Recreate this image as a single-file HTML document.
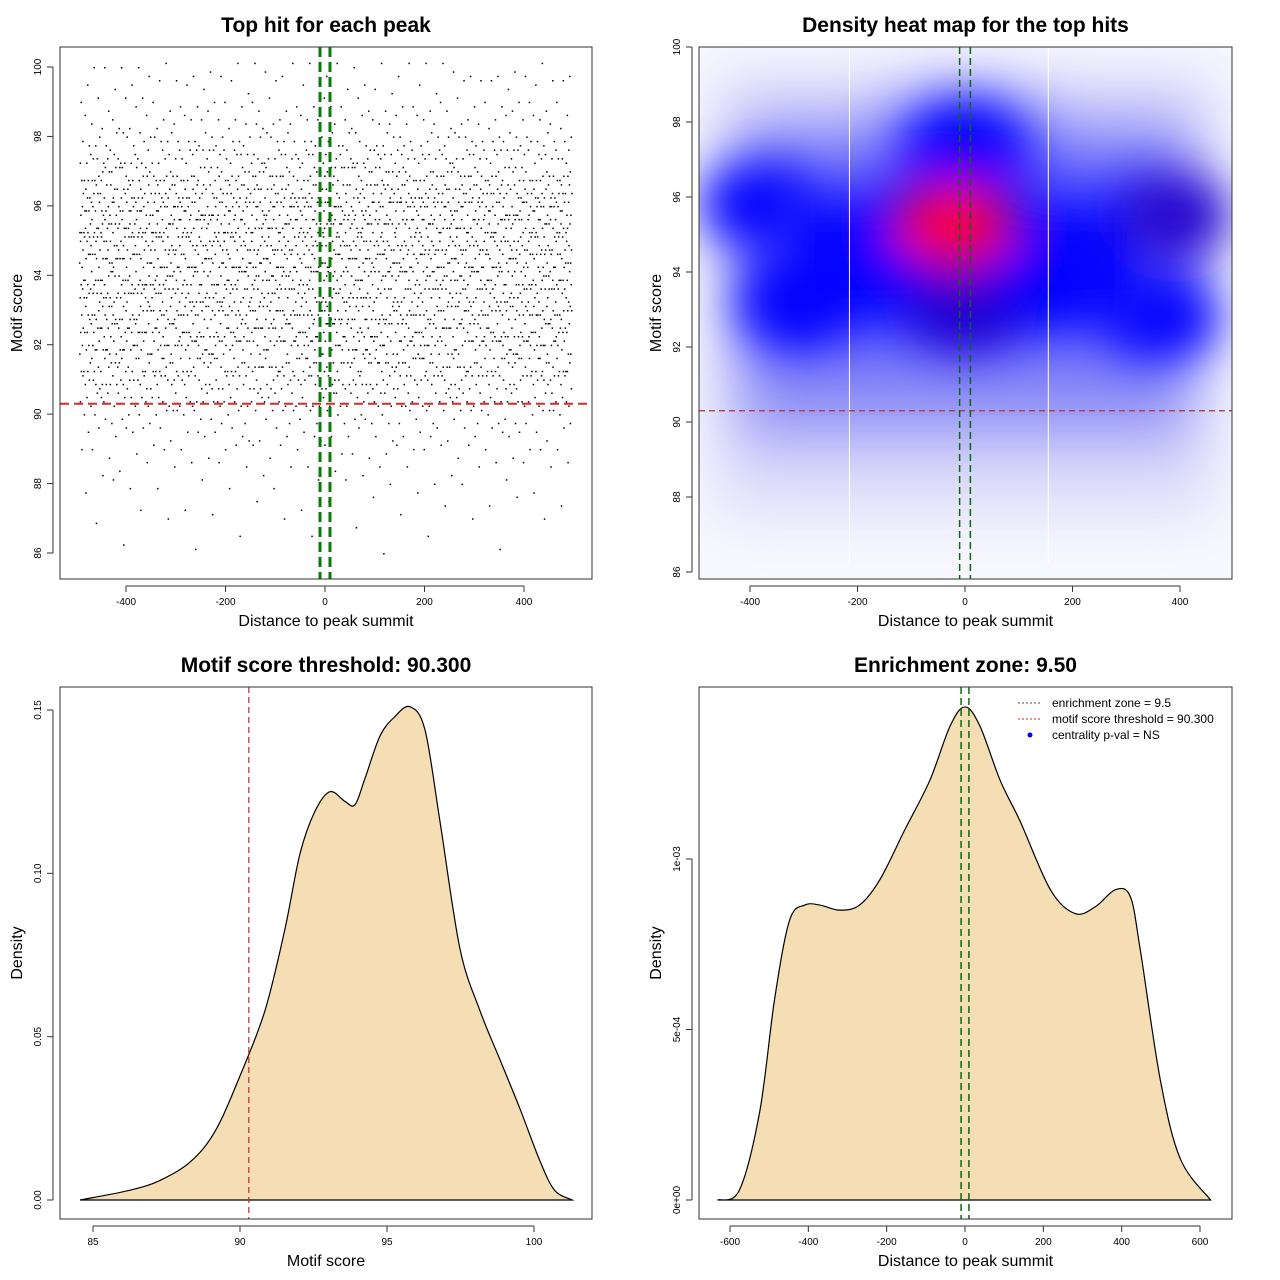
<!DOCTYPE html>
<html><head><meta charset="utf-8"><style>
body{margin:0;background:#fff}
svg{display:block;font-family:"Liberation Sans",sans-serif}
</style></head><body>
<svg id="c" width="1280" height="1280" viewBox="0 0 1280 1280">
<defs>
<filter id="blur1" x="-50%" y="-50%" width="200%" height="200%"><feGaussianBlur stdDeviation="30"/></filter>
<filter id="blur2" x="-50%" y="-50%" width="200%" height="200%"><feGaussianBlur stdDeviation="24"/></filter>
<clipPath id="hmclip"><rect x="699" y="47" width="533" height="532"/></clipPath>
</defs>
</svg>
<script>
// ---- Panel 1 data: number of peaks per motif-score band (0.5 wide) ----
const scoreBands=[86,86.5,87,87.5,88,88.5,89,89.5,90,90.5,91,91.5,92,92.5,93,93.5,94,94.5,95,95.5,96,96.5,97,97.5,98,98.5,99,99.5,100];
const bandCounts=[3,4,8,10,15,20,30,40,60,100,140,160,180,190,200,200,200,210,220,230,220,190,150,120,80,50,40,25,30];
const scatterXTicks=[-400,-200,0,200,400];
const scatterYTicks=[86,88,90,92,94,96,98,100];
// ---- Panel 2 data: density blobs (distance, score) ----
const blobX=[-390,-320,-150,0,150,370,390,-20,0];
const blobY=[95.8,93.2,94.5,93,94,92.8,95.5,95.3,97.3];
const blobLevel=['blue','blue','blue','navy','blue','blue','navy','red','blue'];
const heatXTicks=[-400,-200,0,200,400];
const heatYTicks=[86,88,90,92,94,96,98,100];
// ---- Panel 3 data: score density ----
const scoreX=[84.56,86.26,87.28,88.3,89.15,90,90.85,91.53,92.04,92.55,93.06,93.57,93.91,94.25,94.76,95.27,95.78,96.29,96.8,97.48,98.16,98.84,99.52,100.2,100.7,101.3];
const scoreDens=[0,0.003,0.006,0.0116,0.021,0.038,0.058,0.083,0.106,0.119,0.125,0.122,0.121,0.129,0.142,0.148,0.151,0.144,0.116,0.077,0.058,0.043,0.028,0.012,0.003,0];
const scoreXTicks=[85,90,95,100];
const scoreYTicks=[0,0.05,0.10,0.15];
const scoreYLabels=['0.00','0.05','0.10','0.15'];
// ---- Panel 4 data: distance density (units 1e-4) ----
const distX=[-632,-576,-524,-486,-448,-409,-371,-320,-269,-217,-154,-90,-38,0,38,90,141,218,281,333,384,422,448,499,550,627];
const distDens=[0,0.29,2.6,5.9,8.2,8.65,8.65,8.5,8.65,9.4,10.85,12.3,13.9,14.46,13.9,12.3,11.1,9.1,8.4,8.6,9.1,8.9,7.3,3.5,1.2,0];
const distXTicks=[-600,-400,-200,0,200,400,600];
const distYTicks=[0,5,10];
const distYLabels=['0e+00','5e-04','1e-03'];

const svg=document.getElementById('c');
const NS='http://www.w3.org/2000/svg';
function mk(tag,attrs,parent){const e=document.createElementNS(NS,tag);for(const k in attrs)e.setAttribute(k,attrs[k]);(parent||svg).appendChild(e);return e;}
function txt(x,y,s,size,opts){const e=mk('text',Object.assign({x:x,y:y,'font-size':size,'text-anchor':'middle'},opts||{}));e.textContent=s;return e;}
function lin(d0,d1,p0,p1){return v=>p0+(v-d0)*(p1-p0)/(d1-d0);}

function axes(box,xs,ys,xt,xl,yt,yl,title,xlab,ylab,prefix){
  const g=mk('g',{});
  
  
  const t=txt((box.x0+box.x1)/2,32,title,21,{'font-weight':'bold'});t.setAttribute('y',box.y0-15);
  
  const r=mk('rect',{x:box.x0,y:box.y0,width:box.x1-box.x0,height:box.y1-box.y0,fill:'none',stroke:'#333','stroke-width':1});
  
  const yb=box.y1+7;
  mk('line',{x1:xs(xt[0]),x2:xs(xt[xt.length-1]),y1:yb,y2:yb,stroke:'#333'},g);
  xt.forEach((v,i)=>{const x=xs(v);mk('line',{x1:x,x2:x,y1:yb,y2:yb+6,stroke:'#333'},g);
    const l=txt(x,yb+19,xl[i],10);});
  const xa=box.x0-7;
  mk('line',{x1:xa,x2:xa,y1:ys(yt[0]),y2:ys(yt[yt.length-1]),stroke:'#333'},g);
  yt.forEach((v,i)=>{const y=ys(v);mk('line',{x1:xa-6,x2:xa,y1:y,y2:y,stroke:'#333'},g);
    const l=txt(xa-12,y,yl[i],10,{transform:'rotate(-90 '+(xa-12)+' '+y+')'});});
  const xL=txt((box.x0+box.x1)/2,box.y1+47,xlab,16);
  const cy=(box.y0+box.y1)/2,cx=box.x0-38;
  const yL=txt(cx,cy,ylab,16,{transform:'rotate(-90 '+cx+' '+cy+')'});
}
function smoothPath(pts){let d='M'+pts[0][0]+','+pts[0][1];
  for(let i=0;i<pts.length-1;i++){const p0=pts[Math.max(0,i-1)],p1=pts[i],p2=pts[i+1],p3=pts[Math.min(pts.length-1,i+2)];
    d+=' C'+(p1[0]+(p2[0]-p0[0])/6)+','+(p1[1]+(p2[1]-p0[1])/6)+' '+(p2[0]-(p3[0]-p1[0])/6)+','+(p2[1]-(p3[1]-p1[1])/6)+' '+p2[0]+','+p2[1];}
  return d;}

// ===== Panel 1 =====
{const box={x0:60,x1:592,y0:47,y1:579};
 const xs=lin(0,400,325,524), ys=lin(86,100,553,67);
 const g=mk('g',{});
 
 
 let k=0;
 scoreBands.forEach((s,bi)=>{const n=bandCounts[bi];
   for(let i=0;i<n;i++){k++;
     const fx=((k*0.6180339887)%1), fy=((k*k*0.3819660113+k*0.137)%1);
     const d=-495+fx*990, sc=s-0.25+Math.floor(fy*4)*0.125;
     mk('rect',{x:xs(d).toFixed(1),y:ys(sc).toFixed(1),width:1.5,height:1.5,fill:'#000'},g);}
 });
 const h=mk('line',{x1:60,x2:592,y1:ys(90.3),y2:ys(90.3),stroke:'#d42a2a','stroke-width':2,'stroke-dasharray':'9,5'});
 
 [-10,10].forEach(v=>{const l=mk('line',{x1:xs(v),x2:xs(v),y1:47,y2:579,stroke:'#0a7a0a','stroke-width':3,'stroke-dasharray':'10,5'});
   });
 axes(box,xs,ys,scatterXTicks,scatterXTicks.map(String),scatterYTicks,scatterYTicks.map(String),'Top hit for each peak','Distance to peak summit','Motif score','scatter');
}
// ===== Panel 2 =====
{const box={x0:699,x1:1232,y0:47,y1:579};
 const xs=lin(0,400,965,1180), ys=lin(86,100,572,47);
 const g=mk('g',{'clip-path':'url(#hmclip)'});
 
 
 mk('rect',{x:699,y:47,width:533,height:532,fill:'#f8f8ff'},g);
 const g1=mk('g',{filter:'url(#blur1)'},g);
 mk('rect',{x:715,y:ys(99.3),width:500,height:ys(87.5)-ys(99.3),fill:'#dcdcfa'},g1);
 mk('rect',{x:735,y:ys(98.2),width:460,height:ys(89.5)-ys(98.2),fill:'#8e8ef8'},g1);
 mk('rect',{x:750,y:ys(96.8),width:430,height:ys(91.8)-ys(96.8),fill:'#1010ff'},g1);
 mk('ellipse',{cx:xs(0),cy:ys(97.8),rx:90,ry:40,fill:'#2020ff'},g1);
 const g2=mk('g',{filter:'url(#blur2)'},g);
 blobX.forEach((bx,i)=>{const col=blobLevel[i]==='red'?'#ff0000':blobLevel[i]==='navy'?'#2200cc':'#0000ff';
   const rx=blobLevel[i]==='red'?60:55, ry=blobLevel[i]==='red'?40:42;
   const e=mk('ellipse',{cx:xs(bx),cy:ys(blobY[i]),rx:rx,ry:ry,fill:col},g2);
   });
 mk('ellipse',{cx:xs(-20),cy:ys(95.4),rx:30,ry:22,fill:'#ff0000'},g2);
 [-215,155].forEach(v=>mk('line',{x1:xs(v),x2:xs(v),y1:47,y2:565,stroke:'#fff','stroke-width':1},g));
 const h=mk('line',{x1:699,x2:1232,y1:ys(90.3),y2:ys(90.3),stroke:'#b03030','stroke-width':1.2,'stroke-dasharray':'6,4'});
 
 [-10,10].forEach(v=>{const l=mk('line',{x1:xs(v),x2:xs(v),y1:47,y2:579,stroke:'#0a6a0a','stroke-width':1.5,'stroke-dasharray':'7,4'});
   });
 axes(box,xs,ys,heatXTicks,heatXTicks.map(String),heatYTicks,heatYTicks.map(String),'Density heat map for the top hits','Distance to peak summit','Motif score','heatmap');
}
// ===== Panel 3 =====
{const box={x0:60,x1:592,y0:687,y1:1219};
 const xs=lin(85,100,93,534), ys=lin(0,0.15,1200,710);
 const pts=scoreX.map((v,i)=>[xs(v),ys(scoreDens[i])]);
 const p=mk('path',{d:smoothPath(pts)+' Z',fill:'#f5deb3',stroke:'#000','stroke-width':1.2});
 
 const v=mk('line',{x1:xs(90.3),x2:xs(90.3),y1:687,y2:1219,stroke:'#b03030','stroke-width':1.2,'stroke-dasharray':'6,4'});
 
 axes(box,xs,ys,scoreXTicks,scoreXTicks.map(String),scoreYTicks,scoreYLabels,'Motif score threshold: 90.300','Motif score','Density','score-density');
}
// ===== Panel 4 =====
{const box={x0:699,x1:1232,y0:687,y1:1219};
 const xs=lin(0,600,965,1200), ys=lin(0,10,1200,859);
 const pts=distX.map((v,i)=>[xs(v),ys(distDens[i])]);
 const p=mk('path',{d:smoothPath(pts)+' Z',fill:'#f5deb3',stroke:'#000','stroke-width':1.2});
 
 [-10,10].forEach(v=>{const l=mk('line',{x1:xs(v),x2:xs(v),y1:687,y2:1219,stroke:'#0a6a0a','stroke-width':1.5,'stroke-dasharray':'7,4'});
   });
 axes(box,xs,ys,distXTicks,distXTicks.map(String),distYTicks,distYLabels,'Enrichment zone: 9.50','Distance to peak summit','Density','distance-density');
 const lg=mk('g',{});
 
 
 mk('line',{x1:1018,x2:1042,y1:703,y2:703,stroke:'#444','stroke-dasharray':'2,2'},lg);
 mk('line',{x1:1018,x2:1042,y1:719,y2:719,stroke:'#e02020','stroke-dasharray':'2,2'},lg);
 mk('circle',{cx:1030,cy:735,r:2.5,fill:'#0000ff'},lg);
 ['enrichment zone = 9.5','motif score threshold = 90.300','centrality p-val = NS'].forEach((s,i)=>{
   const t=txt(1052,707+16*i,s,12,{'text-anchor':'start'});lg.appendChild(t);});
}
</script>
</body></html>
